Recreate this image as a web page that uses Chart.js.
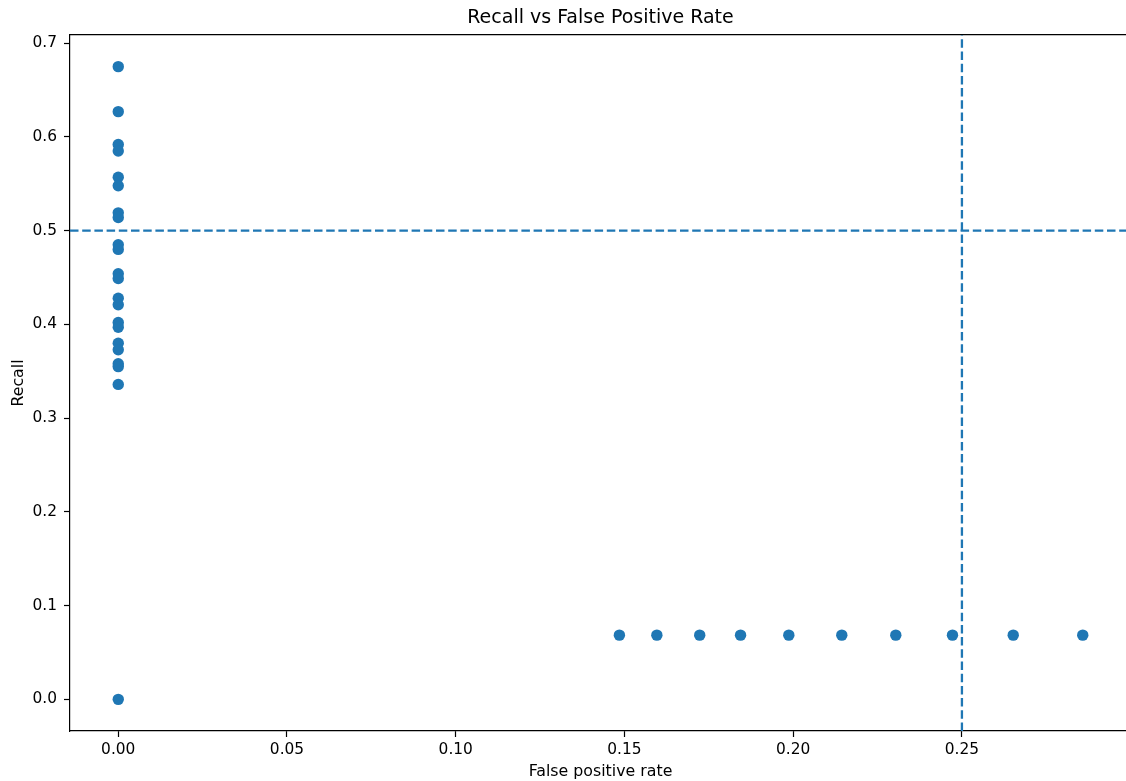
<!DOCTYPE html>
<html>
<head>
<meta charset="utf-8">
<script src="https://cdn.jsdelivr.net/npm/chart.js@4/dist/chart.umd.min.js"></script>
<style>
html,body{margin:0;padding:0;background:#fff;overflow:hidden;width:1126px;height:781px;}
#wrap{position:absolute;left:0;top:0;width:1131px;height:781px;}
</style>
</head>
<body>
<div id="wrap"><canvas id="c" width="1131" height="781"></canvas></div>
<script>
// ---- data ----
const leftFpr = [0,0,0,0,0,0,0,0,0,0,0,0,0,0,0,0,0,0,0,0,0,0];
const leftRecall = [0.675,0.627,0.592,0.585,0.557,0.548,0.519,0.514,0.485,0.480,0.454,0.449,0.428,0.421,0.402,0.397,0.380,0.373,0.358,0.355,0.336,0.0];
const bottomFpr = [0.1485,0.1596,0.1723,0.1844,0.1987,0.2144,0.2304,0.2472,0.2652,0.2858];
const bottomRecall = [0.0685,0.0685,0.0685,0.0685,0.0685,0.0685,0.0685,0.0685,0.0685,0.0685];
const recallThreshold = 0.5;
const fprThreshold = 0.25;
const xTicks = [0,0.05,0.10,0.15,0.20,0.25];
const yTicks = [0,0.1,0.2,0.3,0.4,0.5,0.6,0.7];
const xRange = [-0.0143, 0.3001];
const yRange = [-0.03375, 0.70875];

const blue = '#1f77b4';
const FONT = 'DejaVu Sans';

const points = leftFpr.map((x,i)=>({x, y:leftRecall[i]}))
  .concat(bottomFpr.map((x,i)=>({x, y:bottomRecall[i]})));

new Chart(document.getElementById('c'), {
  type: 'scatter',
  data: {
    datasets: [
      {
        data: [{x:xRange[0], y:recallThreshold},{x:xRange[1], y:recallThreshold}],
        showLine: true, borderColor: blue, borderWidth: 2.3, borderDash: [8.5,3.7],
        pointRadius: 0, fill: false
      },
      {
        data: [{x:fprThreshold, y:yRange[0]},{x:fprThreshold, y:yRange[1]}],
        showLine: true, borderColor: blue, borderWidth: 2.3, borderDash: [8.5,3.7],
        pointRadius: 0, fill: false
      },
      {
        data: points,
        backgroundColor: blue, borderWidth: 0, pointRadius: 5.7, pointHoverRadius: 5.7
      }
    ]
  },
  options: {
    responsive: false,
    animation: false,
    events: [],
    layout: {padding: 0, autoPadding: false},
    plugins: {
      legend: {display: false},
      tooltip: {enabled: false},
      title: {
        display: true,
        fullSize: false,
        text: 'Recall vs False Positive Rate',
        color: '#000',
        font: {family: FONT, size: 19, weight: 'normal', lineHeight: 1.2},
        padding: {top: 7, bottom: 5.2}
      }
    },
    scales: {
      x: {
        type: 'linear', position: 'bottom',
        min: xRange[0], max: xRange[1],
        afterFit: s => { s.height = 50; },
        afterBuildTicks: s => { s.ticks = xTicks.map(v=>({value:v})); },
        ticks: {
          color: '#000', font: {family: FONT, size: 15.4}, padding: 4,
          maxRotation: 0, autoSkip: false,
          callback: v => Number(v).toFixed(2)
        },
        grid: {display: true, drawOnChartArea: false, drawTicks: true, tickLength: 6, color: '#000', tickWidth: 1.2},
        border: {display: true, color: '#000', width: 1.2},
        title: {display: true, text: 'False positive rate', color: '#000',
          font: {family: FONT, size: 15.8, lineHeight: 1.2}, padding: {top: 0, bottom: 0}}
      },
      x2: {
        type: 'linear', position: 'top',
        min: xRange[0], max: xRange[1],
        afterFit: s => { s.height = 0; },
        ticks: {display: false},
        grid: {display: false, drawTicks: false},
        border: {display: true, color: '#000', width: 1.2}
      },
      y: {
        type: 'linear', position: 'left',
        min: yRange[0], max: yRange[1],
        afterFit: s => { s.width = 70; },
        afterBuildTicks: s => { s.ticks = yTicks.map(v=>({value:v})); },
        ticks: {
          color: '#000', font: {family: FONT, size: 15.4}, padding: 7,
          autoSkip: false,
          callback: v => Number(v).toFixed(1)
        },
        grid: {display: true, drawOnChartArea: false, drawTicks: true, tickLength: 6, color: '#000', tickWidth: 1.2},
        border: {display: true, color: '#000', width: 1.2},
        title: {display: true, text: 'Recall', color: '#000',
          font: {family: FONT, size: 15.8, lineHeight: 1.2}, padding: {top: 9, bottom: 0}}
      }
    }
  }
});
</script>
</body>
</html>
